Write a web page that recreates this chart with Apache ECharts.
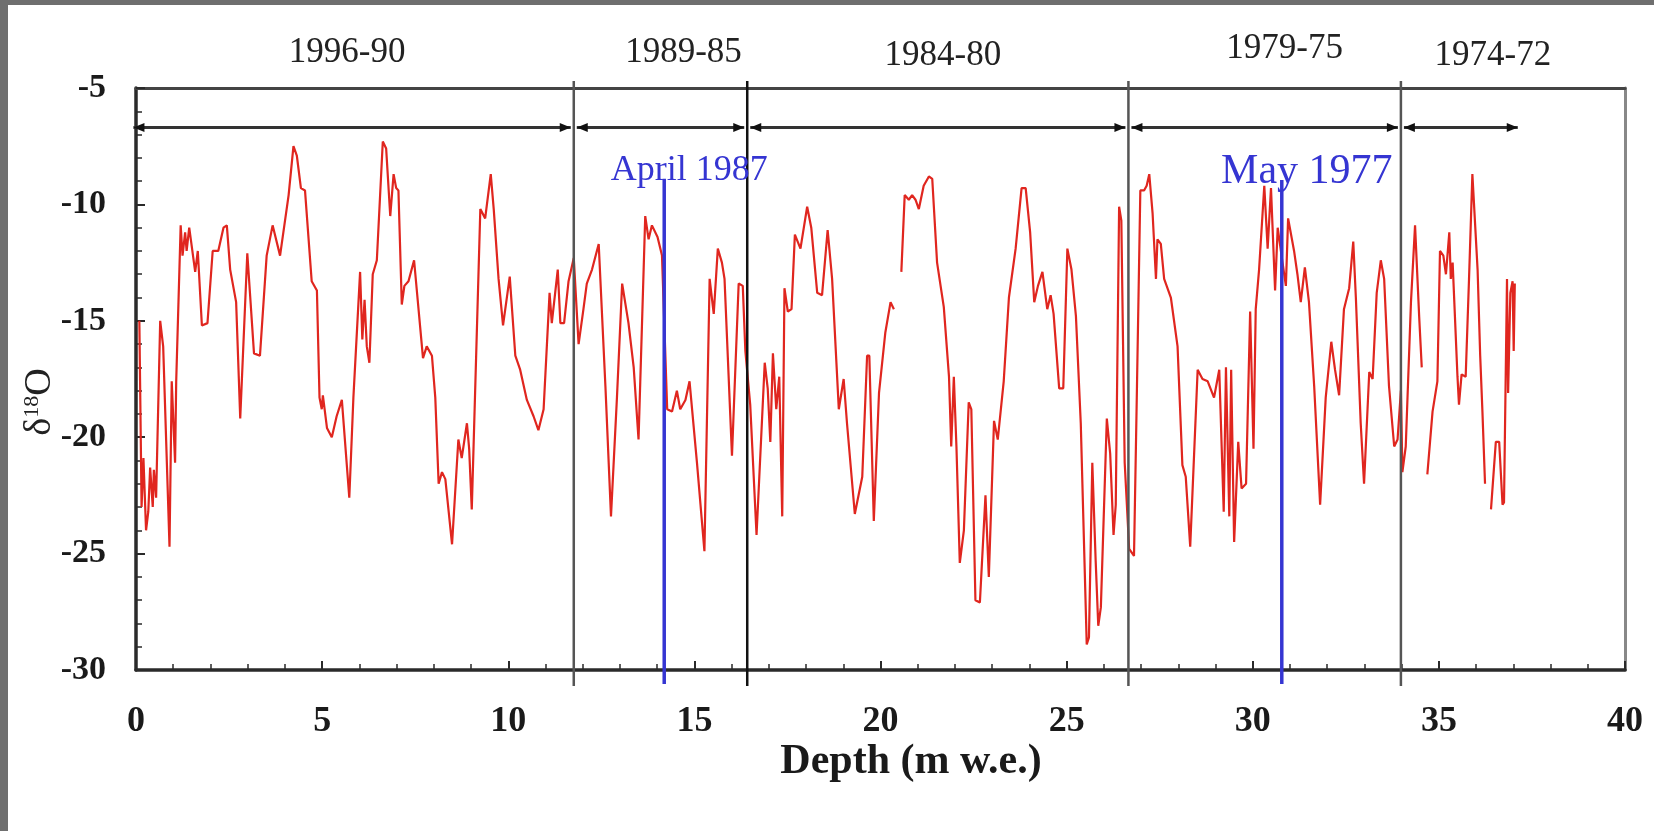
<!DOCTYPE html>
<html>
<head>
<meta charset="utf-8">
<script src="https://cdn.jsdelivr.net/npm/echarts@6/dist/echarts.min.js"></script>
<style>
  html, body { margin: 0; padding: 0; background: #6f6f6f; }
  #chart { position: absolute; left: 8px; top: 5px; width: 1646px; height: 826px; background: #ffffff; }
</style>
</head>
<body>
<div id="chart"></div>
<script>
// δ18O profile along the core depth (m water equivalent); null marks a break in the record
const depth = [
  0.09, 0.15, 0.20, 0.27, 0.33, 0.38, 0.45, 0.48, 0.54, 0.65, 0.73, 0.90, 0.96, 1.05, 1.08,
  1.20, 1.25, 1.32, 1.36, 1.43, 1.59, 1.66, 1.77, 1.92, 2.06, 2.21, 2.35, 2.44, 2.53, 2.69,
  2.80, 2.99, 3.17, 3.33, 3.51, 3.67, 3.87, 4.10, 4.23, 4.32, 4.43, 4.54, 4.72, 4.86, 4.93,
  4.99, 5.02, 5.13, 5.26, 5.39, 5.53, 5.73, 5.84, 6.02, 6.08, 6.14, 6.20, 6.27, 6.36, 6.47,
  6.63, 6.72, 6.83, 6.92, 6.99, 7.05, 7.14, 7.21, 7.32, 7.47, 7.71, 7.81, 7.95, 8.04, 8.13,
  8.22, 8.31, 8.49, 8.66, 8.75, 8.89, 8.95, 9.02, 9.25, 9.38, 9.53, 9.61, 9.74, 9.86, 10.04,
  10.19, 10.32, 10.50, 10.68, 10.81, 10.95, 11.11, 11.17, 11.33, 11.40, 11.50, 11.62, 11.76, 11.89, 12.02,
  12.11, 12.25, 12.43, 12.61, 12.76, 12.92, 13.06, 13.23, 13.37, 13.50, 13.68, 13.77, 13.86, 14.01, 14.13,
  14.27, 14.40, 14.53, 14.62, 14.76, 14.87, 15.07, 15.27, 15.41, 15.52, 15.63, 15.74, 15.81, 16.01, 16.19,
  16.30, 16.37, 16.50, 16.67, 16.89, 16.97, 17.04, 17.11, 17.20, 17.28, 17.36, 17.42, 17.51, 17.61, 17.70,
  17.85, 18.03, 18.14, 18.30, 18.43, 18.58, 18.70, 18.88, 19.01, 19.10, 19.31, 19.51, 19.64, 19.70, 19.82,
  19.96, 20.13, 20.27, 20.36, null, 20.56, 20.65, 20.76, 20.85, 20.94, 21.03, 21.16, 21.30, 21.39, 21.52,
  21.70, 21.84, 21.90, 21.97, 22.04, 22.13, 22.24, 22.37, 22.44, 22.55, 22.67, 22.82, 22.91, 23.05, 23.15,
  23.31, 23.45, 23.63, 23.79, 23.90, 24.02, 24.13, 24.23, 24.35, 24.48, 24.57, 24.65, 24.80, 24.91, 25.02,
  25.13, 25.25, 25.38, 25.54, 25.60, 25.69, 25.78, 25.85, 25.92, 26.08, 26.17, 26.26, 26.32, 26.41, 26.47,
  26.56, 26.68, 26.81, 26.89, 26.98, 27.08, 27.15, 27.22, 27.31, 27.40, 27.44, 27.53, 27.62, 27.80, 27.98,
  28.11, 28.20, 28.32, 28.52, 28.65, 28.79, 28.96, 29.10, 29.22, 29.28, 29.37, 29.42, 29.50, 29.61, 29.70,
  29.82, 29.93, 30.02, 30.08, 30.17, 30.31, 30.40, 30.49, 30.60, 30.67, 30.80, 30.89, 30.95, 31.11, 31.20,
  31.29, 31.40, 31.51, 31.65, 31.81, 31.96, 32.11, 32.21, 32.32, 32.45, 32.59, 32.70, 32.77, 32.90, 32.99,
  33.13, 33.22, 33.33, 33.44, 33.53, 33.66, 33.80, 33.89, 33.98, 34.02, 34.11, 34.25, 34.36, 34.47, 34.54,
  null, 34.69, 34.83, 34.96, 35.03, 35.12, 35.19, 35.28, 35.32, 35.37, 35.50, 35.54, 35.61, 35.72, 35.81,
  35.90, 36.04, 36.11, 36.17, 36.24, null, 36.40, 36.53, 36.62, 36.71, 36.75, 36.83, 36.86, 36.92, 36.98,
  37.01, 37.04
];
const d18O = [
  -15.0, -23.0, -20.9, -24.0, -23.2, -21.3, -23.0, -21.4, -22.6, -15.0, -16.1, -24.7, -17.6, -21.1, -17.6,
  -10.9, -12.2, -11.2, -12.0, -11.0, -12.9, -12.0, -15.2, -15.1, -12.0, -12.0, -11.0, -10.9, -12.8, -14.2,
  -19.2, -12.1, -16.4, -16.5, -12.2, -10.9, -12.2, -9.6, -7.5, -7.9, -9.3, -9.4, -13.3, -13.7, -18.3,
  -18.8, -18.2, -19.6, -20.0, -19.1, -18.4, -22.6, -18.3, -12.9, -15.8, -14.1, -16.1, -16.8, -13.0, -12.4,
  -7.3, -7.6, -10.5, -8.7, -9.3, -9.4, -14.3, -13.5, -13.3, -12.4, -16.6, -16.1, -16.5, -18.3, -22.0,
  -21.5, -21.8, -24.6, -20.1, -20.9, -19.4, -20.5, -23.1, -10.2, -10.6, -8.7, -10.2, -13.2, -15.2, -13.1,
  -16.5, -17.1, -18.4, -19.1, -19.7, -18.8, -13.8, -15.1, -12.8, -15.1, -15.1, -13.3, -12.3, -16.0, -14.5,
  -13.4, -12.8, -11.7, -17.8, -23.4, -18.3, -13.4, -15.1, -17.0, -20.1, -10.5, -11.5, -10.9, -11.4, -12.2,
  -18.8, -18.9, -18.0, -18.8, -18.4, -17.6, -21.1, -24.9, -13.2, -14.7, -11.9, -12.5, -13.2, -20.8, -13.4,
  -13.5, -16.3, -18.6, -24.2, -16.8, -17.9, -20.2, -16.4, -18.8, -17.4, -23.4, -13.6, -14.6, -14.5, -11.3,
  -11.9, -10.1, -11.0, -13.8, -13.9, -11.1, -13.2, -18.8, -17.5, -19.4, -23.3, -21.7, -16.5, -16.5, -23.6,
  -18.1, -15.5, -14.2, -14.5, null, -12.9, -9.6, -9.8, -9.6, -9.8, -10.2, -9.2, -8.8, -8.9, -12.5,
  -14.4, -17.4, -20.4, -17.4, -20.4, -25.4, -24.0, -18.5, -18.8, -27.0, -27.1, -22.5, -26.0, -19.3, -20.1,
  -17.6, -14.0, -11.9, -9.3, -9.3, -11.2, -14.2, -13.5, -12.9, -14.5, -13.9, -14.7, -17.9, -17.9, -11.9,
  -12.8, -14.8, -19.4, -28.9, -28.6, -21.1, -25.3, -28.1, -27.3, -19.2, -20.7, -24.2, -22.9, -10.1, -10.7,
  -21.1, -24.8, -25.1, -17.8, -9.4, -9.4, -9.2, -8.7, -10.4, -13.2, -11.5, -11.7, -13.2, -14.0, -16.1,
  -21.2, -21.7, -24.7, -17.1, -17.5, -17.6, -18.3, -17.1, -23.2, -17.0, -23.4, -17.1, -24.5, -20.2, -22.2,
  -22.0, -14.6, -20.5, -14.5, -12.8, -9.2, -11.9, -9.3, -13.7, -11.0, -12.5, -13.5, -10.6, -12.0, -13.0,
  -14.2, -12.7, -14.2, -17.8, -22.9, -18.3, -15.9, -17.1, -18.2, -14.5, -13.6, -11.6, -14.0, -19.4, -22.0,
  -17.2, -17.5, -13.8, -12.4, -13.2, -17.8, -20.4, -20.1, -18.0, -21.5, -20.4, -14.2, -10.9, -14.8, -17.0,
  null, -21.6, -18.9, -17.6, -12.0, -12.2, -13.0, -11.2, -13.2, -12.5, -17.4, -18.6, -17.3, -17.4, -13.2,
  -8.7, -12.8, -16.5, -18.9, -22.0, null, -23.1, -20.2, -20.2, -22.9, -22.8, -13.2, -18.1, -13.8, -13.3,
  -16.3, -13.4
];

// Dated sections of the core (depth limits in m w.e.)
const periodLabels = ['1996-90', '1989-85', '1984-80', '1979-75', '1974-72'];
const periodStart = [-0.15, 11.76, 16.42, 26.66, 33.98];
const periodEnd = [11.76, 16.42, 26.66, 33.98, 37.2];
const bracketLevel = -6.7;
const boundaryDepth = [11.76, 16.42, 26.66, 33.98];

// Reference horizons
const eventLabels = ['April 1987', 'May 1977'];
const eventDepth = [14.19, 30.78];
const eventTop = [-8.9, -8.95];

// Axis ranges and ticks
const xMin = 0, xMax = 40, xStep = 5;
const yMin = -30, yMax = -5, yStep = 5;

// ---- styling ----
const SERIF = "'Liberation Serif', 'Times New Roman', serif";
const INK = '#1a1a1a';
const BLUE = '#3535d2';
const periodLabelShift = [[-5, -35], [23, -35], [5, -32], [20, -39], [32, -32]];
const eventFontSize = [36, 42];

const chart = echarts.init(document.getElementById('chart'));

const profile = depth.map((d, i) => (d === null || d18O[i] === null) ? ['-', '-'] : [d, d18O[i]]);

function bracketItem(params, api) {
  const i = api.value(3);
  const a = api.coord([api.value(0), api.value(2)]);
  const b = api.coord([api.value(1), api.value(2)]);
  const gap = 3, head = 11, half = 4.5;
  const xa = a[0] + gap, xb = b[0] - gap, y = a[1];
  const top = api.coord([0, yMax])[1];
  const mid = (a[0] + b[0]) / 2;
  return {
    type: 'group',
    children: [
      { type: 'line', shape: { x1: xa, y1: y, x2: xb, y2: y }, style: { stroke: '#333', lineWidth: 3 } },
      { type: 'polygon', shape: { points: [[xa, y], [xa + head, y - half], [xa + head, y + half]] }, style: { fill: '#111' } },
      { type: 'polygon', shape: { points: [[xb, y], [xb - head, y - half], [xb - head, y + half]] }, style: { fill: '#111' } },
      { type: 'text', x: mid + periodLabelShift[i][0], y: top + periodLabelShift[i][1],
        style: { text: periodLabels[i], fill: '#222', fontFamily: SERIF, fontSize: 35, align: 'center', verticalAlign: 'middle' } }
    ]
  };
}

function boundaryItem(params, api) {
  const t = api.coord([api.value(0), yMax]);
  const b = api.coord([api.value(0), yMin]);
  return { type: 'line', shape: { x1: t[0], y1: t[1] - 7, x2: b[0], y2: b[1] + 16 },
           style: { stroke: params.dataIndex === 1 ? '#111' : '#555', lineWidth: 2.5 } };
}

function eventItem(params, api) {
  const i = params.dataIndex;
  const t = api.coord([api.value(0), api.value(1)]);
  const b = api.coord([api.value(0), yMin]);
  return {
    type: 'group',
    children: [
      { type: 'line', shape: { x1: t[0], y1: t[1], x2: b[0], y2: b[1] + 14 }, style: { stroke: BLUE, lineWidth: 3.5 } },
      { type: 'text', x: t[0] + 25, y: t[1] - 8,
        style: { text: eventLabels[i], fill: BLUE, fontFamily: SERIF, fontSize: eventFontSize[i], align: 'center', verticalAlign: 'middle' } }
    ]
  };
}

chart.setOption({
  animation: false,
  backgroundColor: '#ffffff',
  grid: { left: 128, right: 29, top: 83, bottom: 161, containLabel: false },
  xAxis: [
    {
      type: 'value', min: xMin, max: xMax, interval: xStep, position: 'bottom',
      axisLine: { show: true, onZero: false, lineStyle: { color: '#2a2a2a', width: 3.5 } },
      axisTick: { show: true, inside: true, length: 9, lineStyle: { color: '#2a2a2a', width: 2 } },
      minorTick: { show: true, splitNumber: 5, length: 6, lineStyle: { color: '#2a2a2a', width: 1.5 } },
      splitLine: { show: false },
      axisLabel: { margin: 34, color: INK, fontFamily: SERIF, fontWeight: 'bold', fontSize: 36 }
    },
    {
      type: 'value', min: xMin, max: xMax, position: 'top',
      axisLine: { show: true, onZero: false, lineStyle: { color: '#444', width: 3 } },
      axisTick: { show: false }, axisLabel: { show: false }, splitLine: { show: false }
    }
  ],
  yAxis: [
    {
      type: 'value', min: yMin, max: yMax, interval: yStep, position: 'left',
      axisLine: { show: true, onZero: false, lineStyle: { color: '#2a2a2a', width: 3.5 } },
      axisTick: { show: true, inside: true, length: 9, lineStyle: { color: '#2a2a2a', width: 2 } },
      minorTick: { show: true, splitNumber: 5, length: 6, lineStyle: { color: '#2a2a2a', width: 1.5 } },
      splitLine: { show: false },
      axisLabel: { margin: 30, padding: [10, 0, 0, 0], color: INK, fontFamily: SERIF, fontWeight: 'bold', fontSize: 34 }
    },
    {
      type: 'value', min: yMin, max: yMax, position: 'right',
      axisLine: { show: true, onZero: false, lineStyle: { color: '#888', width: 3 } },
      axisTick: { show: false }, axisLabel: { show: false }, splitLine: { show: false }
    }
  ],
  graphic: [
    {
      type: 'text', x: 903, y: 757,
      style: { text: 'Depth (m w.e.)', fill: INK, fontFamily: SERIF, fontWeight: 'bold', fontSize: 42, align: 'center', verticalAlign: 'middle' }
    },
    {
      type: 'text', x: 32, y: 397, rotation: Math.PI / 2,
      style: {
        text: '{d|δ}{s|18}{d|O}', align: 'center', verticalAlign: 'middle',
        rich: {
          d: { fontFamily: SERIF, fontSize: 38, fill: '#222', lineHeight: 42 },
          s: { fontFamily: SERIF, fontSize: 22, fill: '#222', lineHeight: 42, padding: [0, 0, 16, 0] }
        }
      }
    }
  ],
  series: [
    {
      name: 'δ18O', type: 'line', data: profile, showSymbol: false, symbol: 'none',
      connectNulls: false, clip: false, z: 3,
      lineStyle: { color: '#e0261f', width: 2.2 }
    },
    {
      type: 'custom', name: 'periods', renderItem: bracketItem, silent: true, clip: false, z: 4,
      encode: { x: [0, 1], y: 2 },
      data: periodStart.map((s, i) => [s, periodEnd[i], bracketLevel, i])
    },
    {
      type: 'custom', name: 'boundaries', renderItem: boundaryItem, silent: true, clip: false, z: 5,
      encode: { x: 0 },
      data: boundaryDepth.map(d => [d])
    },
    {
      type: 'custom', name: 'events', renderItem: eventItem, silent: true, clip: false, z: 6,
      encode: { x: 0, y: 1 },
      data: eventDepth.map((d, i) => [d, eventTop[i]])
    }
  ]
});
</script>
</body>
</html>
